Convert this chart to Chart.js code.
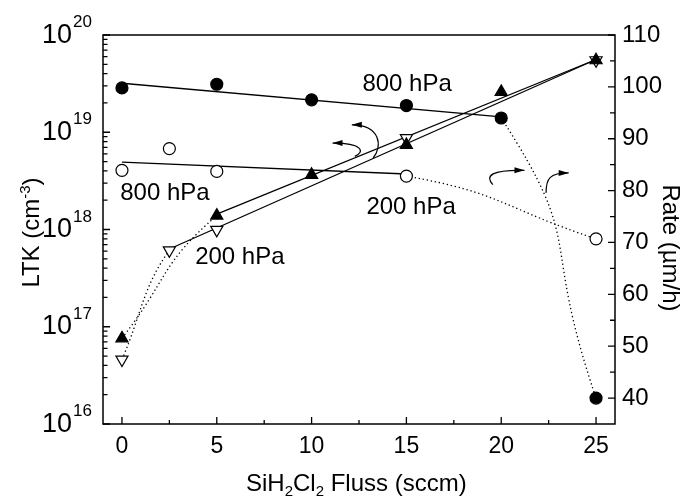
<!DOCTYPE html>
<html>
<head>
<meta charset="utf-8">
<script src="https://cdn.jsdelivr.net/npm/chart.js@4.4.0/dist/chart.umd.min.js"></script>
<style>
  html, body { margin: 0; padding: 0; background: #fff; }
  #wrap { width: 682px; height: 496px; position: relative; }
</style>
</head>
<body>
<div id="wrap"><canvas id="chart"></canvas></div>
<script>
(function () {
  'use strict';

  // ── Data ──────────────────────────────────────────────────────────────────
  // x: SiH2Cl2 flow in sccm
  var FLOW_800 = [0, 5, 10, 15, 20, 25];
  var FLOW_200 = [0, 2.5, 5, 15, 25];

  // growth rate (µm/h), right axis, circles
  var RATE_800 = [99.8, 100.5, 97.5, 96.4, 94.0, 40.0];
  var RATE_200 = [83.9, 88.1, 83.7, 82.8, 70.7];

  // LTK (cm^-3), left log axis, triangles
  var LTK_800 = [7.6e16, 1.39e18, 3.65e18, 7.4e18, 2.6e19, 5.5e19];
  var LTK_200 = [4.6e16, 6.1e17, 9.9e17, 8.7e18, 5.5e19];

  // straight fit lines, end points
  var FIT_RATE_800_X = [0, 20];
  var FIT_RATE_800   = [100.7, 94.2];
  var FIT_RATE_200_X = [0, 15];
  var FIT_RATE_200   = [85.5, 83.2];
  var FIT_LTK_800_X  = [5, 25];
  var FIT_LTK_800    = [1.44e18, 5.6e19];
  var FIT_LTK_200_X  = [2.5, 25];
  var FIT_LTK_200    = [6.3e17, 5.6e19];

  // ticks
  var X_TICKS    = [0, 2.5, 5, 7.5, 10, 12.5, 15, 17.5, 20, 22.5, 25];
  var RATE_TICKS = [40, 45, 50, 55, 60, 65, 70, 75, 80, 85, 90, 95, 100, 105, 110];
  var LTK_DECADES = [16, 17, 18, 19, 20];

  var FONT = '"Liberation Sans", Arial, Helvetica, sans-serif';
  Chart.defaults.font.family = FONT;
  Chart.defaults.color = '#000';

  function pts(xs, ys) {
    return xs.map(function (x, i) { return { x: x, y: ys[i] }; });
  }

  var LTK_TICKS = [];
  LTK_DECADES.forEach(function (d) {
    if (d === LTK_DECADES[LTK_DECADES.length - 1]) { LTK_TICKS.push(Math.pow(10, d)); return; }
    for (var k = 1; k <= 9; k++) { LTK_TICKS.push(k * Math.pow(10, d)); }
  });

  // ── Dataset helpers ───────────────────────────────────────────────────────
  function markers(data, axis, style, filled) {
    return {
      data: data, yAxisID: axis, showLine: false, order: 0,
      pointStyle: style.shape, rotation: style.rotation || 0,
      pointRadius: style.r, pointHoverRadius: style.r,
      pointBackgroundColor: filled ? '#000' : '#fff',
      pointBorderColor: '#000', pointBorderWidth: 1.2
    };
  }
  function fitLine(data, axis) {
    return {
      data: data, yAxisID: axis, showLine: true, order: 1,
      borderColor: '#000', borderWidth: 1.3, pointRadius: 0, tension: 0
    };
  }
  // dotted connector: whole series with a spline, only one segment shown
  function dotted(data, axis, segIndex, tension) {
    return {
      data: data, yAxisID: axis, showLine: true, order: 1,
      borderColor: '#000', borderWidth: 1.3, borderDash: [1.3, 2.8],
      pointRadius: 0, tension: tension,
      segment: {
        borderColor: function (ctx) { return ctx.p0DataIndex === segIndex ? '#000' : 'rgba(0,0,0,0)'; }
      }
    };
  }

  var CIRCLE = { shape: 'circle', r: 6 };
  var TRI_UP = { shape: 'triangle', r: 7 };
  var TRI_DN = { shape: 'triangle', r: 7, rotation: 180 };

  var datasets = [
    markers(pts(FLOW_800, RATE_800), 'yR', CIRCLE, true),
    markers(pts(FLOW_200, RATE_200), 'yR', CIRCLE, false),
    markers(pts(FLOW_800, LTK_800), 'yL', TRI_UP, true),
    markers(pts(FLOW_200, LTK_200), 'yL', TRI_DN, false),
    fitLine(pts(FIT_RATE_800_X, FIT_RATE_800), 'yR'),
    fitLine(pts(FIT_RATE_200_X, FIT_RATE_200), 'yR'),
    fitLine(pts(FIT_LTK_800_X, FIT_LTK_800), 'yL'),
    fitLine(pts(FIT_LTK_200_X, FIT_LTK_200), 'yL'),
    dotted(pts(FLOW_800, RATE_800), 'yR', 4, 0.6),
    dotted(pts(FLOW_200, RATE_200), 'yR', 3, 0.5),
    dotted(pts(FLOW_800, LTK_800), 'yL', 0, 0.5),
    dotted(pts(FLOW_200, LTK_200), 'yL', 0, 0.4)
  ];

  // ── Annotations (labels and curved arrows, in data units on x / rate) ────
  var LABELS = [
    { text: '800 hPa', x: 12.68, r: 99.29 },
    { text: '200 hPa', x: 12.89, r: 75.58 },
    { text: '800 hPa', x: -0.09, r: 78.27 },
    { text: '200 hPa', x: 3.86,  r: 65.77 }
  ];
  var ARROWS = [
    [[13.242, 86.29], [13.753, 88.46], [13.647, 92.69], [12.121, 92.69]],
    [[12.279, 86.60], [12.858, 87.50], [12.647, 89.23], [11.105, 89.17]],
    [[19.558, 81.15], [19.121, 82.88], [19.489, 84.04], [21.226, 83.90]],
    [[22.368, 79.56], [22.358, 82.31], [22.542, 83.40], [23.558, 83.40]]
  ];

  function isDecade(v) {
    var l = Math.log10(v);
    return Math.abs(l - Math.round(l)) < 1e-6;
  }

  // draws mixed text runs (normal / sup / sub) starting at x on a baseline
  function runsWidth(ctx, runs) {
    var w = 0;
    runs.forEach(function (r) { ctx.font = r.size + 'px ' + FONT; w += ctx.measureText(r.t).width; });
    return w;
  }
  function drawRuns(ctx, runs, x, y) {
    runs.forEach(function (r) {
      ctx.font = r.size + 'px ' + FONT;
      ctx.fillText(r.t, x, y + (r.dy || 0));
      x += ctx.measureText(r.t).width;
    });
  }

  var decor = {
    id: 'decor',
    afterDraw: function (chart) {
      var ctx = chart.ctx;
      var a = chart.chartArea;
      var sx = chart.scales.x, yl = chart.scales.yL, yr = chart.scales.yR;
      ctx.save();
      ctx.strokeStyle = '#000';
      ctx.fillStyle = '#000';

      // frame
      ctx.lineWidth = 1.5;
      ctx.strokeRect(a.left, a.top, a.right - a.left, a.bottom - a.top);

      // inward tick marks
      ctx.lineWidth = 1.3;
      ctx.beginPath();
      sx.ticks.forEach(function (t) {
        var px = sx.getPixelForValue(t.value);
        var len = t.value % 5 === 0 ? 7 : 4;
        ctx.moveTo(px, a.bottom); ctx.lineTo(px, a.bottom - len);
      });
      yl.ticks.forEach(function (t) {
        var py = yl.getPixelForValue(t.value);
        var len = isDecade(t.value) ? 7 : 4.5;
        ctx.moveTo(a.left, py); ctx.lineTo(a.left + len, py);
      });
      yr.ticks.forEach(function (t) {
        var py = yr.getPixelForValue(t.value);
        var len = t.value % 10 === 0 ? 7 : 5;
        ctx.moveTo(a.right, py); ctx.lineTo(a.right - len, py);
      });
      ctx.stroke();

      // left tick labels 10^n
      ctx.textBaseline = 'alphabetic';
      LTK_DECADES.forEach(function (d) {
        var py = yl.getPixelForValue(Math.pow(10, d));
        ctx.font = '27px ' + FONT;
        ctx.textAlign = 'right';
        ctx.fillText('10', a.left - 31, py + 7.5);
        ctx.font = '17px ' + FONT;
        ctx.textAlign = 'left';
        ctx.fillText(String(d), a.left - 30, py - 8);
      });

      // axis titles
      ctx.textAlign = 'left';
      var ltk = [{ t: 'LTK (cm', size: 24 }, { t: '-3', size: 15, dy: -9 }, { t: ')', size: 24 }];
      ctx.save();
      ctx.translate(38.5, (a.top + a.bottom) / 2 + 3);
      ctx.rotate(-Math.PI / 2);
      drawRuns(ctx, ltk, -runsWidth(ctx, ltk) / 2, 0);
      ctx.restore();

      var rate = [{ t: 'Rate (\u00b5m/h)', size: 24 }];
      ctx.save();
      ctx.translate(663, 248);
      ctx.rotate(Math.PI / 2);
      drawRuns(ctx, rate, -runsWidth(ctx, rate) / 2, 0);
      ctx.restore();

      var xt = [
        { t: 'SiH', size: 24 }, { t: '2', size: 15, dy: 5 },
        { t: 'Cl', size: 24 }, { t: '2', size: 15, dy: 5 },
        { t: ' Fluss (sccm)', size: 24 }
      ];
      drawRuns(ctx, xt, 246, 490.5);

      // pressure labels
      ctx.font = '24px ' + FONT;
      LABELS.forEach(function (l) {
        ctx.fillText(l.text, sx.getPixelForValue(l.x), yr.getPixelForValue(l.r));
      });

      // curved arrows
      ctx.lineWidth = 1.2;
      ARROWS.forEach(function (arw) {
        var p = arw.map(function (q) { return [sx.getPixelForValue(q[0]), yr.getPixelForValue(q[1])]; });
        ctx.beginPath();
        ctx.moveTo(p[0][0], p[0][1]);
        ctx.bezierCurveTo(p[1][0], p[1][1], p[2][0], p[2][1], p[3][0], p[3][1]);
        ctx.stroke();
        var ang = Math.atan2(p[3][1] - p[2][1], p[3][0] - p[2][0]);
        var L = 10, W = 3;
        ctx.beginPath();
        ctx.moveTo(p[3][0], p[3][1]);
        ctx.lineTo(p[3][0] - L * Math.cos(ang) + W * Math.sin(ang), p[3][1] - L * Math.sin(ang) - W * Math.cos(ang));
        ctx.lineTo(p[3][0] - L * Math.cos(ang) - W * Math.sin(ang), p[3][1] - L * Math.sin(ang) + W * Math.cos(ang));
        ctx.closePath();
        ctx.fill();
      });

      ctx.restore();
    }
  };

  // ── Chart ─────────────────────────────────────────────────────────────────
  new Chart(document.getElementById('chart'), {
    type: 'scatter',
    data: { datasets: datasets },
    plugins: [decor],
    options: {
      responsive: true,
      maintainAspectRatio: false,
      animation: false,
      layout: { padding: { top: 35, left: 0, right: 0, bottom: 0 } },
      plugins: { legend: { display: false }, tooltip: { enabled: false } },
      scales: {
        x: {
          type: 'linear', min: -1, max: 26,
          afterBuildTicks: function (s) { s.ticks = X_TICKS.map(function (v) { return { value: v }; }); },
          afterFit: function (s) { s.height = 72; },
          grid: { display: false, drawTicks: false },
          border: { display: false },
          ticks: {
            autoSkip: false, maxRotation: 0, padding: 9,
            font: { size: 23 }, color: '#000',
            callback: function (v) { return v % 5 === 0 ? String(v) : ''; }
          }
        },
        yL: {
          type: 'logarithmic', position: 'left', min: 1e16, max: 1e20,
          afterBuildTicks: function (s) { s.ticks = LTK_TICKS.map(function (v) { return { value: v }; }); },
          afterFit: function (s) { s.width = 103; },
          grid: { display: false, drawTicks: false },
          border: { display: false },
          ticks: { display: false }
        },
        yR: {
          type: 'linear', position: 'right', min: 35, max: 110,
          afterBuildTicks: function (s) { s.ticks = RATE_TICKS.map(function (v) { return { value: v }; }); },
          afterFit: function (s) { s.width = 67; },
          grid: { display: false, drawTicks: false },
          border: { display: false },
          ticks: {
            autoSkip: false, padding: 7,
            font: { size: 24 }, color: '#000',
            callback: function (v) { return v % 10 === 0 ? String(v) : ''; }
          }
        }
      }
    }
  });
}());
</script>
</body>
</html>
